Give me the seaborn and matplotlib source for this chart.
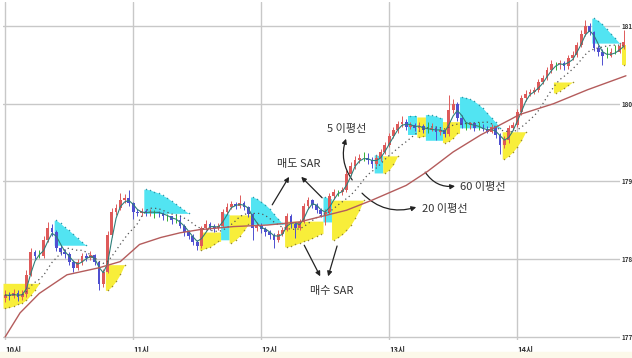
import matplotlib
matplotlib.use("Agg")
import matplotlib.pyplot as plt
import seaborn as sns
import pandas as pd
import numpy as np

# 2-minute bars starting at 10:00 (open of first bar, then close/high/low per bar)
first_open = 177.50
closes = [
    177.54, 177.53, 177.57, 177.51, 177.55, 177.80, 178.09, 178.04, 178.04, 178.25,
    178.40, 178.35, 178.14, 178.09, 178.07, 177.96, 177.89, 177.96, 178.04, 178.02,
    178.05, 177.96, 177.68, 177.84, 178.31, 178.61, 178.66, 178.76, 178.79, 178.72,
    178.61, 178.59, 178.62, 178.59, 178.61, 178.61, 178.59, 178.55, 178.55, 178.50,
    178.50, 178.43, 178.35, 178.30, 178.22, 178.17, 178.40, 178.45, 178.41, 178.40,
    178.43, 178.61, 178.67, 178.71, 178.69, 178.72, 178.67, 178.58, 178.40, 178.43,
    178.39, 178.35, 178.31, 178.25, 178.33, 178.38, 178.56, 178.45, 178.40, 178.48,
    178.68, 178.76, 178.70, 178.63, 178.58, 178.61, 178.81, 178.86, 178.86, 178.89,
    179.10, 179.20, 179.28, 179.30, 179.30, 179.28, 179.23, 179.30, 179.38, 179.47,
    179.59, 179.66, 179.74, 179.77, 179.70, 179.73, 179.69, 179.72, 179.66, 179.66,
    179.69, 179.64, 179.66, 179.61, 179.92, 180.00, 179.82, 179.73, 179.73, 179.75,
    179.69, 179.69, 179.67, 179.64, 179.70, 179.60, 179.47, 179.53, 179.69, 179.73,
    179.89, 180.07, 180.13, 180.15, 180.18, 180.28, 180.33, 180.43, 180.51, 180.51,
    180.52, 180.48, 180.59, 180.63, 180.76, 180.90, 181.00, 180.92, 180.72, 180.67,
    180.62, 180.62, 180.67, 180.67, 180.74, 180.80,
]
highs = [
    177.60, 177.58, 177.62, 177.60, 177.60, 177.86, 178.14, 178.12, 178.12, 178.30,
    178.48, 178.45, 178.37, 178.18, 178.13, 178.09, 177.99, 178.00, 178.08, 178.08,
    178.10, 178.07, 177.98, 177.88, 178.36, 178.66, 178.71, 178.85, 178.84, 178.89,
    178.74, 178.65, 178.66, 178.65, 178.64, 178.63, 178.62, 178.61, 178.58, 178.56,
    178.58, 178.57, 178.45, 178.38, 178.33, 178.25, 178.43, 178.51, 178.48, 178.45,
    178.47, 178.65, 178.72, 178.75, 178.74, 178.82, 178.75, 178.69, 178.60, 178.48,
    178.46, 178.42, 178.38, 178.34, 178.37, 178.42, 178.60, 178.58, 178.48, 178.52,
    178.72, 178.80, 178.78, 178.72, 178.66, 178.65, 178.85, 178.90, 178.89, 178.93,
    179.15, 179.25, 179.33, 179.35, 179.38, 179.37, 179.31, 179.34, 179.42, 179.51,
    179.63, 179.70, 179.78, 179.84, 179.80, 179.77, 179.75, 179.76, 179.74, 179.76,
    179.75, 179.71, 179.70, 179.68, 180.11, 180.06, 180.02, 179.85, 179.76, 179.77,
    179.77, 179.76, 179.74, 179.72, 179.74, 179.72, 179.62, 179.58, 179.73, 179.77,
    179.93, 180.11, 180.18, 180.19, 180.22, 180.32, 180.37, 180.47, 180.56, 180.54,
    180.56, 180.55, 180.63, 180.68, 180.80, 180.95, 181.08, 181.04, 180.94, 180.76,
    180.70, 180.73, 180.72, 180.75, 180.78, 180.95,
]
lows = [
    177.45, 177.47, 177.50, 177.46, 177.48, 177.52, 177.78, 178.00, 178.01, 178.02,
    178.22, 178.30, 178.10, 178.05, 178.02, 177.92, 177.83, 177.86, 177.93, 177.98,
    177.99, 177.92, 177.60, 177.64, 177.82, 178.28, 178.57, 178.63, 178.72, 178.68,
    178.52, 178.55, 178.56, 178.55, 178.56, 178.53, 178.54, 178.51, 178.49, 178.45,
    178.47, 178.40, 178.30, 178.26, 178.18, 178.12, 178.15, 178.37, 178.37, 178.35,
    178.37, 178.41, 178.58, 178.64, 178.65, 178.66, 178.63, 178.54, 178.25, 178.36,
    178.34, 178.30, 178.26, 178.14, 178.22, 178.30, 178.36, 178.40, 178.27, 178.37,
    178.46, 178.65, 178.66, 178.59, 178.54, 178.44, 178.58, 178.78, 178.81, 178.82,
    178.87, 179.07, 179.16, 179.24, 179.27, 179.23, 179.18, 179.20, 179.27, 179.35,
    179.44, 179.56, 179.62, 179.70, 179.66, 179.67, 179.65, 179.66, 179.62, 179.63,
    179.65, 179.53, 179.60, 179.57, 179.58, 179.88, 179.78, 179.69, 179.66, 179.67,
    179.65, 179.66, 179.65, 179.62, 179.63, 179.56, 179.35, 179.43, 179.50, 179.66,
    179.70, 179.86, 180.04, 180.10, 180.12, 180.15, 180.25, 180.30, 180.40, 180.44,
    180.45, 180.44, 180.45, 180.56, 180.60, 180.73, 180.87, 180.88, 180.68, 180.62,
    180.50, 180.59, 180.60, 180.64, 180.65, 180.71,
]

# 60-period moving average (minutes after 10:00)
ma60_minutes = [0, 7, 16, 29, 44, 54, 63, 73, 82, 91, 107, 123, 138, 160, 172,
                188, 198, 210, 223, 237, 241, 257, 273, 291]
ma60_values = [177.00, 177.31, 177.56, 177.80, 177.89, 177.97, 178.19, 178.28,
               178.34, 178.38, 178.42, 178.44, 178.48, 178.63, 178.76, 178.95,
               179.13, 179.38, 179.60, 179.80, 179.86, 180.00, 180.18, 180.36]

# parabolic SAR segments: kind, first bar, flat level, SAR per bar
sar_kind = ["buy", "sell", "buy", "sell", "buy", "sell", "buy", "sell", "buy", "sell", "buy",
            "sell", "buy", "sell", "buy", "sell", "buy", "sell", "buy", "buy", "sell", "buy"]
sar_start = [0, 12, 24, 33, 46, 51, 53, 58, 66, 75, 77,
             87, 89, 95, 97, 99, 103, 107, 117, 129, 138, 145]
sar_level = [177.69, 178.18, 177.93, 178.59, 178.35, 178.25, 178.57, 178.45, 178.49, 178.48, 178.76,
             179.11, 179.33, 179.60, 179.83, 179.53, 179.77, 179.69, 179.64, 180.28, 180.78, 180.76]
sar_values = [
    [177.37, 177.38, 177.40, 177.42, 177.44, 177.48, 177.54, 177.61, 177.69],
    [178.50, 178.46, 178.41, 178.37, 178.32, 178.27, 178.22, 178.18],
    [177.60, 177.65, 177.72, 177.81, 177.93],
    [178.90, 178.89, 178.87, 178.85, 178.82, 178.79, 178.75, 178.71, 178.67, 178.63, 178.59],
    [178.12, 178.14, 178.16, 178.19, 178.23],
    [178.59, 178.58],
    [178.21, 178.25, 178.30, 178.37, 178.45],
    [178.80, 178.78, 178.74, 178.70, 178.65, 178.58, 178.52, 178.46],
    [178.16, 178.17, 178.19, 178.21, 178.23, 178.25, 178.27, 178.30, 178.33],
    [178.80, 178.78],
    [178.25, 178.28, 178.32, 178.37, 178.44, 178.53, 178.63, 178.76],
    [179.34, 179.33],
    [179.11, 179.15, 179.22, 179.33],
    [179.84, 179.84],
    [179.57, 179.58],
    [179.86, 179.85, 179.84, 179.82],
    [179.50, 179.52, 179.56, 179.62],
    [180.09, 180.08, 180.06, 180.03, 179.99, 179.94, 179.88, 179.82, 179.76, 179.69],
    [179.29, 179.33, 179.38, 179.45, 179.53, 179.64],
    [180.14, 180.17, 180.20, 180.24, 180.28],
    [181.10, 181.07, 181.02, 180.96, 180.90, 180.84, 180.78],
    [180.50],
]

hour_minutes = [0, 60, 120, 180, 240]
hour_labels = ["10시", "11시", "12시", "13시", "14시"]
price_ticks = [177, 178, 179, 180, 181]

sns.set_style("white")
plt.rcParams["font.family"] = ["Noto Sans CJK KR", "DejaVu Sans"]

df = pd.DataFrame({"close": closes, "high": highs, "low": lows})
df["minute"] = np.arange(len(df)) * 2
df["open"] = [first_open] + closes[:-1]
df["ma5"] = df["close"].rolling(3, min_periods=1).mean()
df["ma20"] = df["close"].rolling(10, min_periods=1).mean()

fig = plt.figure(figsize=(6.32, 3.58), dpi=100)
fig.patches.append(plt.Rectangle((0, 0), 1, 6 / 358, transform=fig.transFigure,
                                 color="#fcf9ea", zorder=0))
# plot area: 3..620 px wide, 2..340 px tall (from the top)
ax = fig.add_axes([3 / 632, 18 / 358, 617 / 632, 338 / 358])
ax.set_xlim(-1, -1 + 617 * 60 / 128)
ax.set_ylim(176.961, 181.309)

# SAR shading (the last bars run a little past the grid, as in the original)
for kind, start, level, vals in zip(sar_kind, sar_start, sar_level, sar_values):
    t = [2 * (start + k) for k in range(len(vals))]
    xs = [t[0] - 1] + t + [t[-1] + 1]
    ys = [vals[0]] + vals + [vals[-1]]
    fill = "#f8ee3a" if kind == "buy" else "#52e4f2"
    dots = "#9a8a30" if kind == "buy" else "#2a9aaa"
    ax.fill_between(xs, ys, level, color=fill, lw=0, zorder=1, clip_on=False)
    ax.scatter(t, vals, s=1.2, color=dots, lw=0, zorder=2, clip_on=False)

# candles
cols = np.where(df["close"] > df["open"], "#de5a5a",
                np.where(df["close"] < df["open"], "#4f4fd0", "#33b033"))
ax.vlines(df["minute"], df["low"], df["high"], colors=cols, lw=0.7, zorder=3, clip_on=False)
body_lo = np.minimum(df["open"], df["close"])
body_h = (df["close"] - df["open"]).abs()
ax.bar(df["minute"], body_h, bottom=body_lo, width=1.3, color=cols, lw=0, zorder=3,
       clip_on=False)

# moving averages
sns.lineplot(data=df, x="minute", y="ma5", ax=ax, color="#2f7f7a", lw=0.8, zorder=4,
             clip_on=False)
sns.lineplot(data=df, x="minute", y="ma20", ax=ax, color="#555555", lw=0.9,
             linestyle=(0, (1, 2.5)), zorder=4, clip_on=False)
sns.lineplot(x=ma60_minutes, y=ma60_values, ax=ax, color="#b45c5c", lw=1.0, zorder=4,
             clip_on=False)

# axes styling
ax.set_xlabel("")
ax.set_ylabel("")
for s in ax.spines.values():
    s.set_visible(False)
ax.set_xticks(hour_minutes)
ax.set_xticklabels(hour_labels, ha="left", fontsize=5.5, fontweight="bold", color="#333333")
ax.yaxis.tick_right()
ax.set_yticks(price_ticks)
ax.set_yticklabels([str(v) for v in price_ticks], fontsize=4.5,
                   fontweight="bold", color="#333333")
ax.tick_params(axis="x", length=0, pad=4)
ax.tick_params(axis="y", length=0, pad=1)
ax.grid(True, color="#c8c8c8", lw=1.0, zorder=0)
ax.set_axisbelow(True)

# annotations
arrow = dict(arrowstyle="-|>", color="#222222", lw=0.9, mutation_scale=7, shrinkA=0, shrinkB=0)
txt = dict(ha="center", va="center", fontsize=8, color="#333333")

ax.text(137.8, 179.23, "매도 SAR", **txt)
ax.annotate("", xy=(133.1, 179.06), xytext=(125.2, 178.70), arrowprops=arrow)
ax.annotate("", xy=(138.8, 179.06), xytext=(148.6, 178.79), arrowprops=arrow)

ax.text(153.3, 177.59, "매수 SAR", **txt)
ax.annotate("", xy=(147.7, 177.78), xytext=(140.2, 178.18), arrowprops=arrow)
ax.annotate("", xy=(151.4, 177.78), xytext=(155.6, 178.17), arrowprops=arrow)

ax.text(160.3, 179.68, "5 이평선", **txt)
ax.annotate("", xy=(159.8, 179.55), xytext=(162.7, 179.02),
            arrowprops=dict(arrow, connectionstyle="arc3,rad=-0.25"))

ax.text(206.3, 178.65, "20 이평선", **txt)
ax.annotate("", xy=(192.7, 178.67), xytext=(167.3, 178.85),
            arrowprops=dict(arrow, connectionstyle="arc3,rad=0.3"))

ax.text(224.1, 178.93, "60 이평선", **txt)
ax.annotate("", xy=(210.9, 178.94), xytext=(196.9, 179.12),
            arrowprops=dict(arrow, connectionstyle="arc3,rad=0.3"))

fig.savefig("out.png", dpi=100)
